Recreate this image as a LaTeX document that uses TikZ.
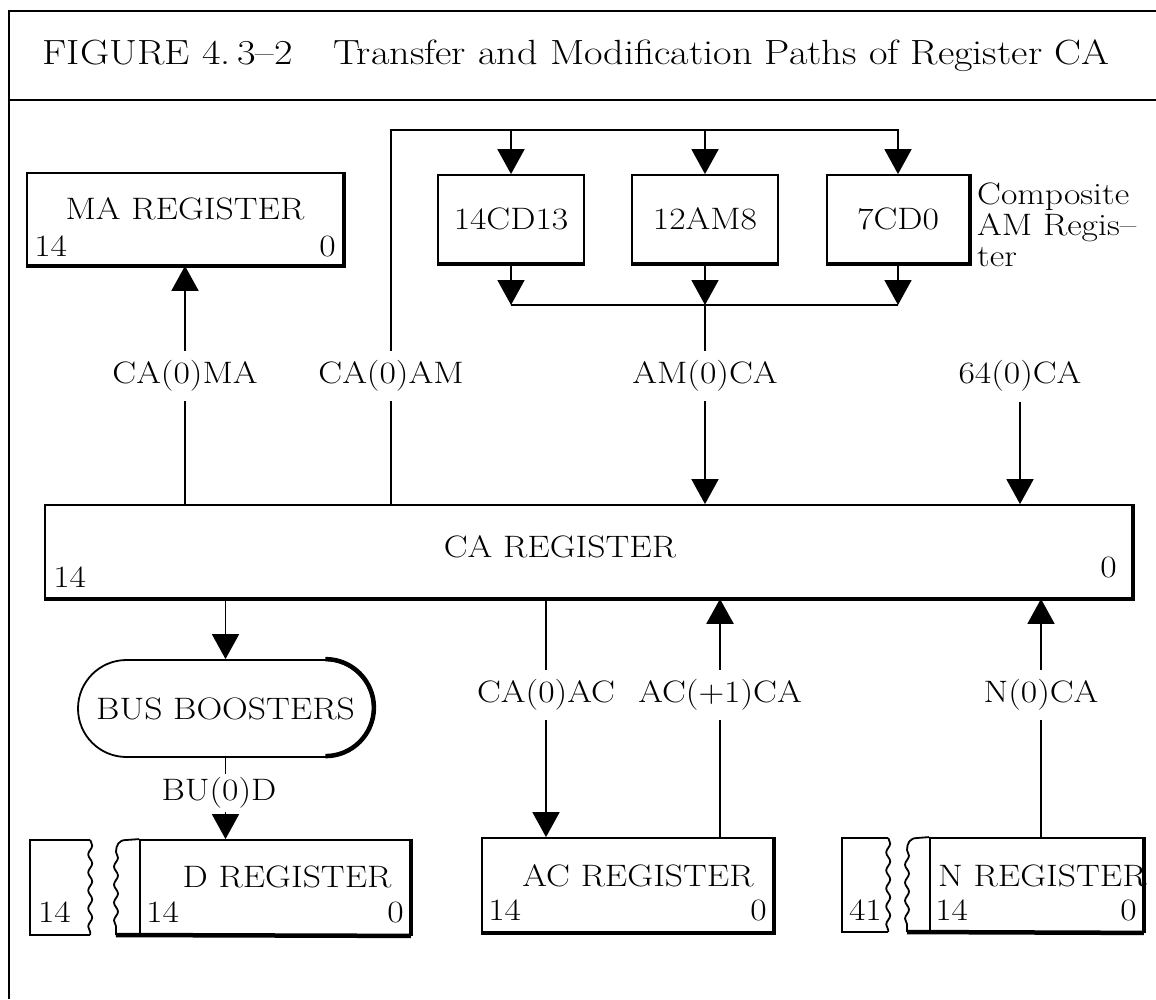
\documentclass[tikz,border=0pt]{standalone}
\usepackage{fontspec}
\usetikzlibrary{arrows.meta,decorations.pathmorphing,calc}
\newcommand\labfont{\fontsize{31}{31}\selectfont}
\newcommand\ttlfont{\fontsize{35}{40}\selectfont}
% heavy "shadow" edges of the register boxes
\newcommand\hvB[1]{\draw[heavy] (#1.south west) -- (#1.south east);}
\newcommand\hvR[1]{\draw[heavy] (#1.south east) -- (#1.north east);}
\newcommand\hvBR[1]{\draw[heavy,line join=miter] (#1.south west) -- (#1.south east) -- (#1.north east);}

\begin{document}
\begin{tikzpicture}[x=1pt,y=-1pt,
  wire/.style={line width=1.8pt},
  heavy/.style={line width=4.5pt},
  frame/.style={line width=2.4pt},
  arr/.style={wire,-{Triangle[length=25pt,width=27pt]}},
  regbox/.style={draw,line width=1.8pt,inner sep=0pt},
  txt/.style={font=\labfont,inner sep=0pt,xscale=1.15},
  lab/.style={font=\labfont,fill=white,inner xsep=3pt,inner ysep=10pt,xscale=1.15},
  wavy/.style={wire,decorate,decoration={snake,amplitude=2pt,segment length=18pt}},
]
\useasboundingbox (0,0) rectangle (1156,999);

% outer frame and title
\draw[frame] (9,999) -- (9,11) -- (1156,11);
\draw[frame] (9,100) -- (1156,100);
\node[font=\ttlfont,inner sep=0pt,xscale=1.15] (title) at (576,56)
  {FIGURE 4.\,3--2\quad Transfer and Modification Paths of Register CA};

% MA register
\node[regbox,minimum width=316,minimum height=92] (ma) at (185,219) {};
\node[txt] (maname) at ($(ma.north)+(0,37)$) {MA REGISTER};
\node[txt,anchor=base west] (mahi) at ($(ma.south west)+(8,-9)$) {14};
\node[txt,anchor=base east] (malo) at ($(ma.south east)+(-8,-9)$) {0};
\hvBR{ma}

% composite AM register
\node[regbox,minimum width=146,minimum height=88] (cdh) at (511,219) {};
\node[regbox,minimum width=146,minimum height=88] (amm) at (705,219) {};
\node[regbox,minimum width=142,minimum height=88] (cdl) at (898,219) {};
\node[txt] (cdhname) at (cdh) {14CD13};
\node[txt] (ammname) at (amm) {12AM8};
\node[txt] (cdlname) at (cdl) {7CD0};
\hvB{cdh}
\hvB{amm}
\hvBR{cdl}
\node[txt,anchor=north west,align=left] (compo) at (977,183)
  {Composite\\AM Regis--\\ter};

% CA register
\node[regbox,minimum width=1087,minimum height=93] (ca) at (588.5,551.5) {};
\node[txt] (caname) at (560,547) {CA REGISTER};
\node[txt,anchor=base west] (cahi) at ($(ca.south west)+(9,-11)$) {14};
\node[txt,anchor=base east] (calo) at ($(ca.south east)+(-16,-21)$) {0};
\hvBR{ca}

% paths between CA and the upper registers
\coordinate (amL) at (391,130);
\coordinate (busL) at (511,305);
\draw[arr] (ca.north -| ma.south) -- (ma.south);
\draw[arr] (ca.north -| amL) -- (amL) -- (amL -| cdl.north) -- (cdl.north);
\draw[arr] (cdh.north |- amL) -- (cdh.north);
\draw[arr] (amm.north |- amL) -- (amm.north);
\draw[arr] (cdh.south) -- (cdh.south |- busL);
\draw[arr] (amm.south) -- (amm.south |- busL);
\draw[arr] (cdl.south) -- (cdl.south |- busL);
\draw[wire] (cdh.south |- busL) -- (cdl.south |- busL);
\draw[arr] (amm.south |- busL) -- (amm.south |- ca.north);
\node[lab] (lcama) at (185,376) {CA(0)MA};
\node[lab] (lcaam) at (391,376) {CA(0)AM};
\node[lab] (lamca) at (705,376) {AM(0)CA};
\node[lab] (l64) at (1020,376) {64(0)CA};
\draw[arr] (l64.south) -- (l64.south |- ca.north);

% bus boosters
\node[draw,wire,rounded corners=48.5pt,minimum width=295,minimum height=97,
  inner sep=0pt] (bb) at (225.5,708.5) {};
\node[txt] (bbname) at (bb) {BUS BOOSTERS};
\draw[heavy] ($(bb.north east)+(-48.5,0)$) arc[start angle=-90,end angle=90,radius=48.5];
\draw[arr] (ca.south -| bb.north) -- (bb.north);

% D register
\node[regbox,minimum width=270,minimum height=95] (dreg) at (275,887.5) {};
\node[txt] (dname) at (287,877) {D REGISTER};
\node[txt,anchor=base west] (dhi) at ($(dreg.south west)+(7,-13)$) {14};
\node[txt,anchor=base east] (dlo) at ($(dreg.south east)+(-7,-13)$) {0};
\draw[wire] (dreg.north west) -- (126,840) .. controls (119,840) and (116,845) .. (116,852);
\draw[wavy] (116,852) -- (116,935);
\draw[heavy] (116,935) -- (dreg.south east);
\hvR{dreg}
\node[minimum width=60,minimum height=95,inner sep=0pt] (dstub) at (60,887.5) {};
\draw[wire] (dstub.north east) -- (dstub.north west) -- (dstub.south west) -- (dstub.south east);
\draw[wavy] (dstub.north east) -- (dstub.south east);
\node[txt,anchor=base west] (dstubn) at ($(dstub.south west)+(8,-13)$) {14};
\draw[arr] (bb.south) -- (bb.south |- dreg.north);
\node[lab,inner ysep=4pt] (lbud) at (219,793) {BU(0)D};

% AC register
\node[regbox,minimum width=291,minimum height=94] (ac) at (627.5,885) {};
\node[txt] (acname) at (638,876) {AC REGISTER};
\node[txt,anchor=base west] (achi) at ($(ac.south west)+(7,-12)$) {14};
\node[txt,anchor=base east] (aclo) at ($(ac.south east)+(-7,-12)$) {0};
\hvBR{ac}

% N register
\node[regbox,minimum width=213,minimum height=94] (nreg) at (1036.5,885) {};
\node[txt,anchor=west] (nname) at (938,876) {N REGISTER};
\node[txt,anchor=base west] (nhi) at ($(nreg.south west)+(6,-12)$) {14};
\node[txt,anchor=base east] (nlo) at ($(nreg.south east)+(-7,-12)$) {0};
\draw[wire] (nreg.north west) -- (917,838) .. controls (910,838) and (907,843) .. (907,850);
\draw[wavy] (907,850) -- (907,932);
\draw[heavy] (907,932) -- (nreg.south east);
\hvR{nreg}
\node[minimum width=46,minimum height=94,inner sep=0pt] (nstub) at (865,885) {};
\draw[wire] (nstub.north east) -- (nstub.north west) -- (nstub.south west) -- (nstub.south east);
\draw[wavy] (nstub.north east) -- (nstub.south east);
\node[txt,anchor=base west] (nstubn) at ($(nstub.south west)+(7,-12)$) {41};

% paths between CA and the lower registers
\coordinate (xa) at (546,0);
\coordinate (xb) at (720,0);
\coordinate (xn) at (1041,0);
\draw[arr] (ca.south -| xa) -- (ac.north -| xa);
\draw[arr,line width=2.6pt] (ac.north -| xb) -- (ca.south -| xb);
\draw[arr] (nreg.north -| xn) -- (ca.south -| xn);
\node[lab] (lcaac) at (546,695) {CA(0)AC};
\node[lab] (lacca) at (720,695) {AC(+1)CA};
\node[lab] (lnca) at (1041,695) {N(0)CA};
\end{tikzpicture}
\end{document}
